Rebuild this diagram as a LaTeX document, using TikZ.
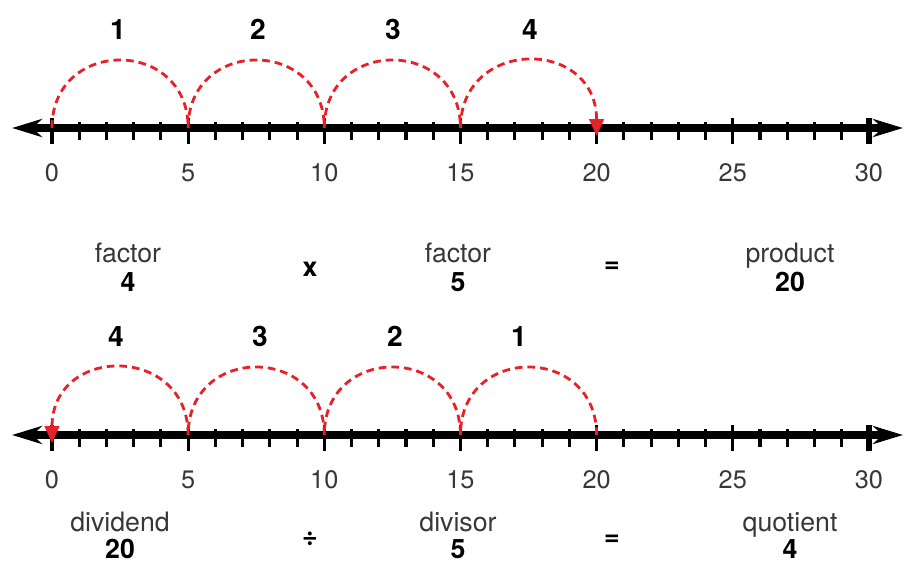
\documentclass[tikz,border=0pt]{standalone}
\usepackage{fontspec}
\setmainfont{TeX Gyre Heros}
\usetikzlibrary{arrows.meta}
\definecolor{rosso}{RGB}{232,32,40}
\definecolor{grigio}{RGB}{55,55,55}
\begin{document}
\begin{tikzpicture}[x=0.025cm,y=-0.025cm,
    asse/.style={line width=5pt,{Stealth[length=0.75cm,width=0.45cm]}-{Stealth[length=0.75cm,width=0.45cm]}},
    tacca/.style={line width=2.2pt},
    salto/.style={rosso,line width=2pt,dash pattern=on 5.5pt off 3.5pt},
    punta/.style={-{Triangle[length=0.42cm,width=0.36cm]}},
    num/.style={grigio,anchor=base,font=\fontsize{18}{20}\selectfont},
    passi/.style={anchor=base,font=\fontsize{20}{22}\selectfont\bfseries},
    parola/.style={grigio,anchor=base,font=\fontsize{19}{22}\selectfont},
    valore/.style={anchor=base,font=\fontsize{19}{22}\selectfont\bfseries}]
    \useasboundingbox (0,0) rectangle (904,565);
    %retta 1 (moltiplicazione)
    \draw[asse] (12,128) -- (903,128);
    \foreach \i in {0,...,30} {
    \draw[tacca] (52+\i*27.23,122) --++ (0,18);}
    \foreach \i in {0,5,...,30} {
    \draw[tacca] (52+\i*27.23,118) --++ (0,26);}
    \draw[tacca,line width=4pt] (869,118) --++ (0,26);
    %salti in avanti
    \foreach \a in {0,1,2} {
    \draw[salto] (52+\a*136.15,128)..controls (52+\a*136.15,37.3) and (188.15+\a*136.15,37.3).. (188.15+\a*136.15,128);}
    \draw[salto,punta] (460.5,128)..controls (460.5,37.3) and (596.6,37.3).. (596.6,136);
    %etichette
    \foreach \n in {0,5,...,30} {
    \node[num] (a\n) at (52+\n*27.23,182) {\n};}
    \node[passi] (s1) at (118,40) {1};
    \node[passi] (s2) at (258,40) {2};
    \node[passi] (s3) at (393,40) {3};
    \node[passi] (s4) at (530,40) {4};
    %fattori
    \node[parola] (f1) at (128,262) {factor};
    \node[valore] (v1) at (128,291) {4};
    \node[valore] (per) at (310,277) {x};
    \node[valore] (ug1) at (612,273) {=};
    \node[parola] (f2) at (458,262) {factor};
    \node[valore] (v2) at (458,291) {5};
    \node[parola] (pr) at (790,262) {product};
    \node[valore] (v3) at (790,291) {20};
    %retta 2 (divisione)
    \draw[asse] (12,435) -- (903,435);
    \foreach \i in {0,...,30} {
    \draw[tacca] (52+\i*27.23,429) --++ (0,18);}
    \foreach \i in {0,5,...,30} {
    \draw[tacca] (52+\i*27.23,425) --++ (0,26);}
    \draw[tacca,line width=4pt] (869,425) --++ (0,26);
    %salti all'indietro
    \foreach \a in {1,2,3} {
    \draw[salto] (52+\a*136.15+136.15,435)..controls (52+\a*136.15+136.15,344.3) and (52+\a*136.15,344.3).. (52+\a*136.15,435);}
    \draw[salto,punta] (188.15,435)..controls (188.15,344.3) and (52,344.3).. (52,443);
    %etichette
    \foreach \n in {0,5,...,30} {
    \node[num] (b\n) at (52+\n*27.23,488) {\n};}
    \node[passi] (r4) at (116,347) {4};
    \node[passi] (r3) at (260,347) {3};
    \node[passi] (r2) at (395,347) {2};
    \node[passi] (r1) at (519,347) {1};
    %divisione
    \node[parola] (dd) at (120,531) {dividend};
    \node[valore] (v4) at (120,558) {20};
    \node[valore] (div) at (310,545) {÷};
    \node[parola] (ds) at (458,531) {divisor};
    \node[valore] (v5) at (458,558) {5};
    \node[valore] (ug2) at (612,545) {=};
    \node[parola] (qu) at (790,531) {quotient};
    \node[valore] (v6) at (790,558) {4};
\end{tikzpicture}
\end{document}
